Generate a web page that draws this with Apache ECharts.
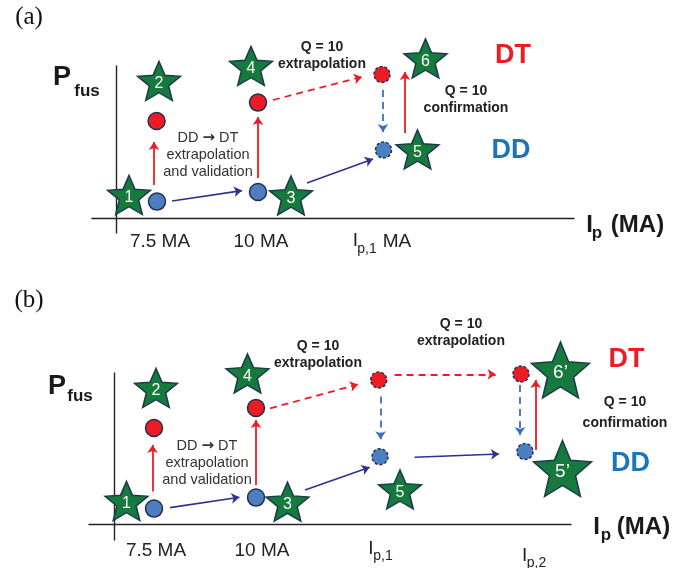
<!DOCTYPE html>
<html><head><meta charset="utf-8">
<script src="https://cdn.jsdelivr.net/npm/echarts@6/dist/echarts.min.js"></script>
<style>html,body{margin:0;padding:0;background:#fff}#c{width:686px;height:568px}</style>
</head><body><div id="c"></div>
<script>
// ---------- Panel (a) : schematic units (Ip along x, Pfus along y) ----------
const starsA      = [[0.65,1.15,'1'],[2.15,6.85,'2'],[8.75,1.125,'3'],[6.75,7.6,'4'],[15.075,3.425,'5'],[15.475,7.975,'6']];
const ddPointsA   = [[2.05,0.82],[7.1,1.3]];
const dtPointsA   = [[2.03,4.85],[7.1,5.77]];
const ddExtraA    = [[13.375,3.4]];
const dtExtraA    = [[13.3,7.175]];
const redUpA      = [[[1.9,1.65],[1.9,3.8]],[[7.1,2.0],[7.1,5.05]],[[14.45,4.25],[14.45,7.3]]];
const blueStepA   = [[[2.8,0.85],[6.3,1.37]],[[9.55,1.75],[12.85,2.95]]];
const redDashA    = [[[7.85,5.9],[12.3,7.05]]];
const blueDashA   = [[[13.35,6.4],[13.35,4.3]]];
const tagA        = [[-4.35,10.05,'(a)']];
const pA          = [[-2.7,7.0,'P']];
const pSubA       = [[-1.45,6.35,'fus']];
const ipA         = [[23.675,-0.35,'I'],[26.075,-0.35,'(MA)']];
const ipSubA      = [[24.05,-0.75,'p']];
const tickA       = [[2.2,-1.2,'7.5 MA'],[7.25,-1.2,'10 MA'],[11.975,-1.15,'I'],[14.05,-1.2,'MA']];
const tickSubA    = [[12.55,-1.55,'p,1']];
const noteA       = [[4.6,3.15,'DD \u2192 DT\nextrapolation\nand validation']];
const qNoteA      = [[10.3,8.125,'Q = 10\nextrapolation'],[17.5,5.9,'Q = 10\nconfirmation']];
const dtLabelA    = [[19.85,8.1,'DT']];
const ddLabelA    = [[19.75,3.35,'DD']];

// ---------- Panel (b) ----------
const starsB      = [[0.625,1.15,'1'],[2.1,6.8,'2'],[8.675,1.115,'3'],[6.675,7.53,'4'],[14.3,1.725,'5']];
const bigStarsB   = [[22.325,7.7,'6\u2019'],[22.425,2.775,'5\u2019']];
const ddPointsB   = [[2.0,0.77],[7.1,1.32]];
const dtPointsB   = [[2.0,4.8],[7.1,5.8]];
const ddExtraB    = [[13.3,3.365],[20.55,3.625]];
const dtExtraB    = [[13.235,7.2],[20.35,7.5]];
const redUpB      = [[[1.93,1.62],[1.93,3.95]],[[7.1,1.95],[7.1,5.2]],[[21.085,3.7],[21.085,7.2]]];
const blueStepB   = [[[2.8,0.82],[6.27,1.34]],[[9.55,1.7],[12.785,2.835]],[[15.03,3.335],[19.25,3.5]]];
const redDashB    = [[[7.8,5.78],[12.2,6.98]],[[14.03,7.485],[19.08,7.485]]];
const blueDashB   = [[[13.33,6.37],[13.33,4.24]],[[20.3,6.95],[20.3,4.45]]];
const tagB        = [[-4.25,11.2,'(b)']];
const pB          = [[-2.85,6.85,'P']];
const pSubB       = [[-1.7,6.4,'fus']];
const ipB         = [[24.125,-0.15,'I'],[26.475,-0.15,'(MA)']];
const ipSubB      = [[24.6,-0.55,'p']];
const tickB       = [[2.1,-1.35,'7.5 MA'],[7.4,-1.35,'10 MA'],[12.85,-1.225,'I'],[20.535,-1.6,'I']];
const tickSubB    = [[13.45,-1.6,'p,1'],[21.125,-1.95,'p,2']];
const noteB       = [[4.65,3.05,'DD \u2192 DT\nextrapolation\nand validation']];
const qNoteB      = [[10.2,8.475,'Q = 10\nextrapolation'],[17.35,9.575,'Q = 10\nextrapolation']];
const qNoteWideB  = [[25.55,5.575,'Q = 10\nconfirmation']];
const dtLabelB    = [[25.625,8.2,'DT']];
const ddLabelB    = [[25.825,3.025,'DD']];

// ---------- styles ----------
const SANS = 'Liberation Sans, Arial, sans-serif';
const SERIF = 'Liberation Serif, Times New Roman, serif';
const RED = '#ed1c24', BLUE = '#4d7fc0', NAVY = '#2e3192', DBLUE = '#3b70bb', EDGE = '#1f3050';
const GREEN = '#157a3b', STAR_EDGE = '#1d3a4f';

function starPath(inner) {
  const pts = [];
  for (let k = 0; k < 10; k++) {
    const r = (k % 2) ? inner : 100;
    const a = (-90 + 36 * k) * Math.PI / 180;
    pts.push((r * Math.cos(a)).toFixed(3) + ',' + (r * Math.sin(a)).toFixed(3));
  }
  return 'path://M' + pts.join('L') + 'Z';
}
const STAR = starPath(45);

function textSeries(g, data, lbl) {
  return {
    type: 'scatter', xAxisIndex: g, yAxisIndex: g, clip: false, silent: true,
    symbol: 'circle', symbolSize: 1, itemStyle: { color: 'rgba(0,0,0,0)', opacity: 1 },
    data: data,
    label: Object.assign({ show: true, position: 'inside', fontFamily: SANS, opacity: 1,
      textBorderWidth: 0,
      formatter: p => String(p.value[2]).replace('\u2192', '{ar|\u2192}'),
      rich: { ar: { fontFamily: 'DejaVu Sans', fontSize: 15, color: '#333', fontWeight: 'bold' } } }, lbl),
    z: 10
  };
}
function arrowSeries(g, segs, color, type, width) {
  return {
    type: 'lines', coordinateSystem: 'cartesian2d', xAxisIndex: g, yAxisIndex: g,
    clip: false, silent: true, symbol: ['none', 'arrow'], symbolSize: 8,
    lineStyle: { color: color, width: width, type: type, opacity: 1, curveness: 0 },
    data: segs.map(c => ({ coords: c })), z: 2
  };
}
function dotSeries(g, pts, color, dashed) {
  return {
    type: 'scatter', xAxisIndex: g, yAxisIndex: g, clip: false, silent: true,
    symbol: 'circle', symbolSize: dashed ? 16 : 17,
    itemStyle: { color: color, borderColor: EDGE, borderWidth: 1.5, borderType: dashed ? [3, 2] : 'solid', opacity: 1 },
    data: pts, z: 4
  };
}
function starSeries(g, pts, size, fs) {
  return {
    type: 'scatter', xAxisIndex: g, yAxisIndex: g, clip: false, silent: true,
    symbol: STAR, symbolSize: size,
    itemStyle: { color: GREEN, borderColor: STAR_EDGE, borderWidth: 1.5, opacity: 1 },
    label: { show: true, position: 'inside', offset: [0, 3], color: '#fff', fontSize: fs,
      fontFamily: SANS, textBorderWidth: 0, formatter: p => p.value[2] },
    data: pts, z: 6
  };
}
function axisPair(g, xmin, xmax, ymin, ymax) {
  const line = { show: true, onZero: true, lineStyle: { color: '#222', width: 1.4 } };
  return {
    x: { type: 'value', gridIndex: g, min: xmin, max: xmax, axisLine: line,
         axisTick: { show: false }, axisLabel: { show: false }, splitLine: { show: false } },
    y: { type: 'value', gridIndex: g, min: ymin, max: ymax, axisLine: line,
         axisTick: { show: false }, axisLabel: { show: false }, splitLine: { show: false } }
  };
}
const axA = axisPair(0, -1.2, 22.9, -0.75, 7.6);
const axB = axisPair(1, -1.25, 22.85, -0.8, 7.55);

function panel(g, d) {
  return [
    arrowSeries(g, d.redUp, RED, 'solid', 1.8),
    arrowSeries(g, d.blueStep, NAVY, 'solid', 1.6),
    arrowSeries(g, d.redDash, RED, [7, 5], 1.8),
    arrowSeries(g, d.blueDash, DBLUE, [7, 5], 1.8),
    dotSeries(g, d.dd, BLUE, false),
    dotSeries(g, d.dt, RED, false),
    dotSeries(g, d.ddX, BLUE, true),
    dotSeries(g, d.dtX, RED, true),
    starSeries(g, d.stars, [43, 39], 16),
    textSeries(g, d.tag, { fontFamily: SERIF, fontSize: 25, color: '#111' }),
    textSeries(g, d.p, { fontSize: 27, fontWeight: 'bold', color: '#1a1a1a' }),
    textSeries(g, d.pSub, { fontSize: 17, fontWeight: 'bold', color: '#1a1a1a' }),
    textSeries(g, d.ip, { fontSize: 24, fontWeight: 'bold', color: '#1a1a1a' }),
    textSeries(g, d.ipSub, { fontSize: 17, fontWeight: 'bold', color: '#1a1a1a' }),
    textSeries(g, d.tick, { fontSize: 19, color: '#222' }),
    textSeries(g, d.tickSub, { fontSize: 14, color: '#222' }),
    textSeries(g, d.note, { fontSize: 14.5, color: '#333', lineHeight: 17 }),
    textSeries(g, d.qNote, { fontSize: 14, fontWeight: 'bold', color: '#222', lineHeight: 17 }),
    textSeries(g, d.dtL, { fontSize: 27, fontWeight: 'bold', color: RED }),
    textSeries(g, d.ddL, { fontSize: 27, fontWeight: 'bold', color: '#1b75bc' })
  ];
}

const series = [].concat(
  panel(0, { redUp: redUpA, blueStep: blueStepA, redDash: redDashA, blueDash: blueDashA,
    dd: ddPointsA, dt: dtPointsA, ddX: ddExtraA, dtX: dtExtraA, stars: starsA,
    tag: tagA, p: pA, pSub: pSubA, ip: ipA, ipSub: ipSubA, tick: tickA, tickSub: tickSubA,
    note: noteA, qNote: qNoteA, dtL: dtLabelA, ddL: ddLabelA }),
  panel(1, { redUp: redUpB, blueStep: blueStepB, redDash: redDashB, blueDash: blueDashB,
    dd: ddPointsB, dt: dtPointsB, ddX: ddExtraB, dtX: dtExtraB, stars: starsB,
    tag: tagB, p: pB, pSub: pSubB, ip: ipB, ipSub: ipSubB, tick: tickB, tickSub: tickSubB,
    note: noteB, qNote: qNoteB, dtL: dtLabelB, ddL: ddLabelB }),
  [starSeries(1, bigStarsB, [58, 56], 19),
   textSeries(1, qNoteWideB, { fontSize: 14, fontWeight: 'bold', color: '#222', lineHeight: 21 })]
);

const chart = echarts.init(document.getElementById('c'), null, { renderer: 'canvas' });
chart.setOption({
  animation: false,
  backgroundColor: '#fff',
  grid: [
    { left: 92, right: 112, top: 66, bottom: 335 },
    { left: 89, right: 115, top: 373, bottom: 28 }
  ],
  xAxis: [axA.x, axB.x],
  yAxis: [axA.y, axB.y],
  series: series
});
</script>
</body></html>
